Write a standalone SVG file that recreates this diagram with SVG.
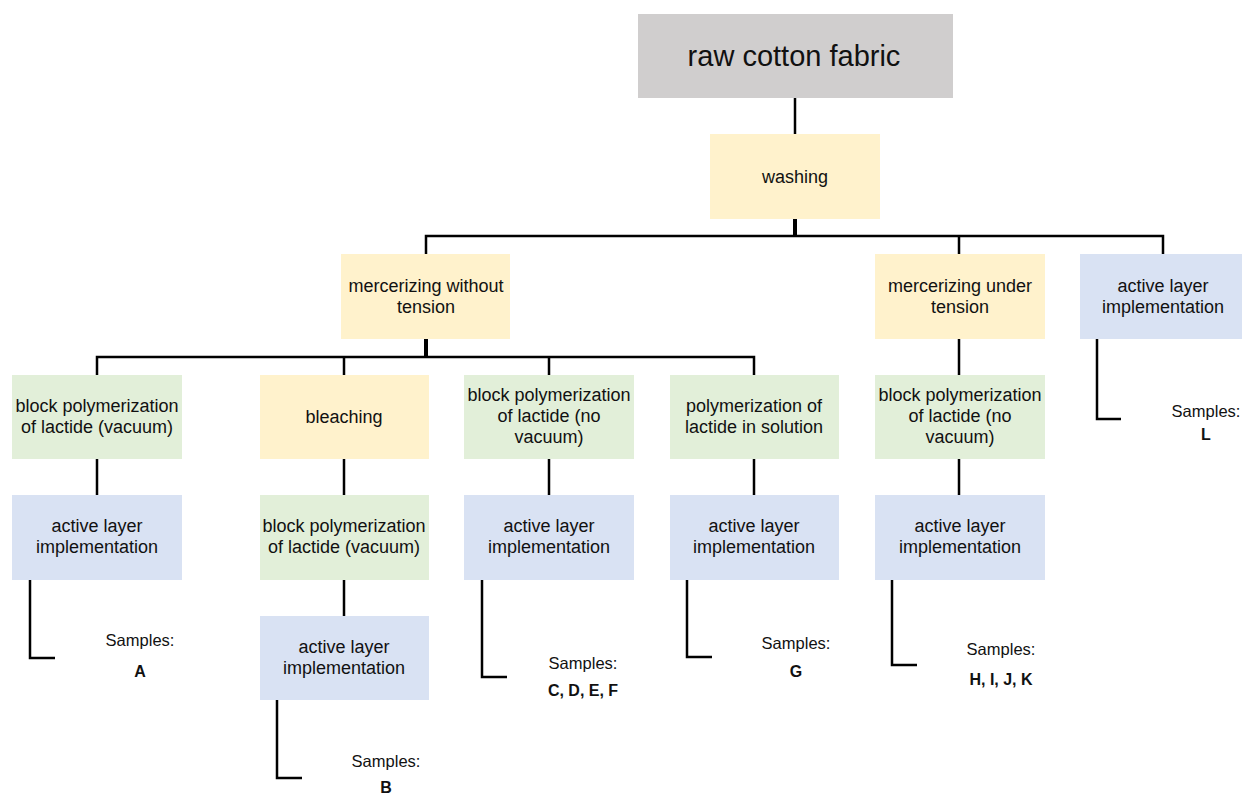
<svg xmlns="http://www.w3.org/2000/svg" width="1242" height="796" viewBox="0 0 1242 796">
<style>
.gray{fill:#d0cece}
.yel{fill:#fff2cc}
.grn{fill:#e2efd9}
.blu{fill:#d9e2f3}
text{font-family:"Liberation Sans",Arial,sans-serif;fill:#111;text-anchor:middle}
.t{font-size:18px}
.s{font-size:16.5px}
.b{font-size:16px;font-weight:bold}
.ln{stroke:#000;stroke-width:2.5;fill:none}
.thk{stroke:#000;stroke-width:4;fill:none}
</style>
<rect width="1242" height="796" fill="#fff"/>
<g id="connectors">
<path class="ln" d="M795,98V134"/>
<path class="thk" d="M795,219V236"/>
<path class="ln" d="M426,254V236H1163V254M959,236V254"/>
<path class="thk" d="M426,339V357"/>
<path class="ln" d="M97,375V357H754V375M344,357V375M549,357V375"/>
<path class="ln" d="M97,459V495M344,459V495M344,580V616M549,459V495M754,459V495M959,339V375M959,459V495"/>
<path class="ln" d="M30,580V658H55"/>
<path class="ln" d="M277,700V778H302"/>
<path class="ln" d="M482,580V677H507"/>
<path class="ln" d="M687,580V657H712"/>
<path class="ln" d="M892,580V665H917"/>
<path class="ln" d="M1097,339V419H1121"/>
</g>
<g id="raw"><rect class="gray" x="638" y="14" width="315" height="84"/><text x="794" y="66" style="font-size:29px">raw cotton fabric</text></g>
<g id="washing"><rect class="yel" x="710" y="134" width="170" height="85"/><text class="t" x="795" y="183">washing</text></g>
<g id="merc-no-tension"><rect class="yel" x="341" y="254" width="169" height="85"/><text class="t" x="426" y="292">mercerizing without</text><text class="t" x="426" y="313">tension</text></g>
<g id="merc-tension"><rect class="yel" x="875" y="254" width="170" height="85"/><text class="t" x="960" y="292">mercerizing under</text><text class="t" x="960" y="313">tension</text></g>
<g id="active-L"><rect class="blu" x="1080" y="254" width="162" height="85"/><text class="t" x="1163" y="292">active layer</text><text class="t" x="1163" y="313">implementation</text></g>
<g id="block-vac-A"><rect class="grn" x="12" y="375" width="170" height="84"/><text class="t" x="97" y="412">block polymerization</text><text class="t" x="97" y="433">of lactide (vacuum)</text></g>
<g id="bleaching"><rect class="yel" x="260" y="375" width="169" height="84"/><text class="t" x="344" y="423">bleaching</text></g>
<g id="block-novac-C"><rect class="grn" x="464" y="375" width="170" height="84"/><text class="t" x="549" y="401">block polymerization</text><text class="t" x="549" y="422">of lactide (no</text><text class="t" x="549" y="443">vacuum)</text></g>
<g id="solution-G"><rect class="grn" x="670" y="375" width="169" height="84"/><text class="t" x="754" y="412">polymerization of</text><text class="t" x="754" y="433">lactide in solution</text></g>
<g id="block-novac-H"><rect class="grn" x="875" y="375" width="170" height="84"/><text class="t" x="960" y="401">block polymerization</text><text class="t" x="960" y="422">of lactide (no</text><text class="t" x="960" y="443">vacuum)</text></g>
<g id="active-A"><rect class="blu" x="12" y="495" width="170" height="85"/><text class="t" x="97" y="532">active layer</text><text class="t" x="97" y="553">implementation</text></g>
<g id="block-vac-B"><rect class="grn" x="260" y="495" width="169" height="85"/><text class="t" x="344" y="532">block polymerization</text><text class="t" x="344" y="553">of lactide (vacuum)</text></g>
<g id="active-C"><rect class="blu" x="464" y="495" width="170" height="85"/><text class="t" x="549" y="532">active layer</text><text class="t" x="549" y="553">implementation</text></g>
<g id="active-G"><rect class="blu" x="670" y="495" width="169" height="85"/><text class="t" x="754" y="532">active layer</text><text class="t" x="754" y="553">implementation</text></g>
<g id="active-H"><rect class="blu" x="875" y="495" width="170" height="85"/><text class="t" x="960" y="532">active layer</text><text class="t" x="960" y="553">implementation</text></g>
<g id="active-B"><rect class="blu" x="260" y="616" width="169" height="84"/><text class="t" x="344" y="653">active layer</text><text class="t" x="344" y="674">implementation</text></g>
<g id="samples-A"><text class="s" x="140" y="646">Samples:</text><text class="b" x="140" y="677">A</text></g>
<g id="samples-B"><text class="s" x="386" y="767">Samples:</text><text class="b" x="386" y="793">B</text></g>
<g id="samples-C"><text class="s" x="583" y="669">Samples:</text><text class="b" x="583" y="696">C, D, E, F</text></g>
<g id="samples-G"><text class="s" x="796" y="649">Samples:</text><text class="b" x="796" y="677">G</text></g>
<g id="samples-H"><text class="s" x="1001" y="655">Samples:</text><text class="b" x="1001" y="685">H, I, J, K</text></g>
<g id="samples-L"><text class="s" x="1206" y="417">Samples:</text><text class="b" x="1206" y="440">L</text></g>
</svg>
